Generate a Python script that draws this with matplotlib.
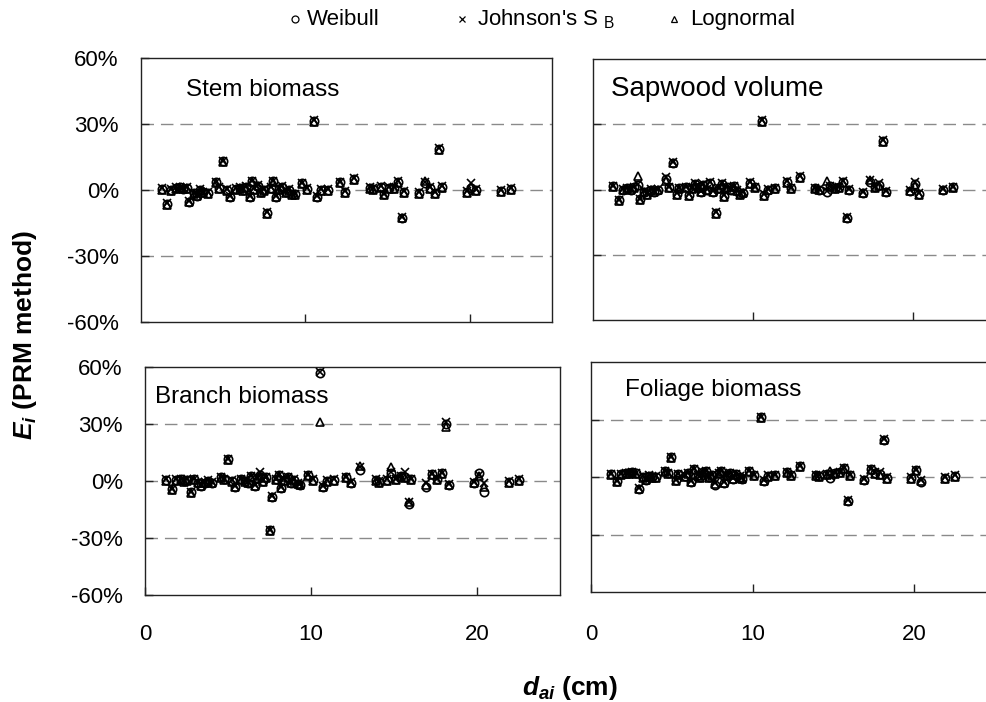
import matplotlib
matplotlib.use("Agg")
import matplotlib.pyplot as plt

plt.rcParams['font.family'] = ['Liberation Sans', 'DejaVu Sans']
plt.rcParams['mathtext.fontset'] = 'custom'
plt.rcParams['mathtext.rm'] = 'Liberation Sans'
plt.rcParams['mathtext.it'] = 'Liberation Sans:italic:bold'
plt.rcParams['mathtext.bf'] = 'Liberation Sans:bold'

# ---------------- data ----------------
d_ai = [
    1.25, 1.6, 1.85, 2.15, 2.35, 2.55, 2.8, 2.95, 3.2, 3.4,
    3.6, 3.8, 4.05, 4.55, 4.75, 4.98, 5.25, 5.4, 5.8, 6.0,
    6.2, 6.4, 6.6, 6.75, 6.9, 7.1, 7.3, 7.5, 7.66, 7.9,
    8.05, 8.2, 8.4, 8.6, 8.8, 9.0, 9.2, 9.35, 9.8, 10.1,
    10.55, 10.7, 10.95, 11.4, 12.1, 12.4, 12.95, 13.9, 14.1, 14.6,
    14.8, 15.1, 15.4, 15.65, 15.9, 16.0, 16.9, 17.3, 17.6, 17.9,
    18.15, 18.3, 19.8, 20.1, 20.4, 21.9, 22.5]

stem_weibull = [
    0.5, -6.4, 0, 1, 1.5, 0.5, 1, -5.3, -1.5, -2.5,
    0, -1, -1.5, 3.5, 1, 13, 0, -3, 0.5, 1,
    0, 1.5, -3, 4, 0.5, 2, -1, 0, -10.5, 1,
    4, -3, 0.5, 1.5, -1, 0, -2, -2, 3, 0.5,
    31.3, -3, 0, 0, 3.5, -1, 5, 1, 0.5, 1.5,
    -2, 1, 1, 3.5, -12.5, -1, -1.5, 3, 1, -1.5,
    18.5, 1.5, -1, 1, 0, -0.5, 0.5]
stem_johnson = [
    0.8, -6.1, 0.3, 1.3, 1.2, 0.8, 1.4, -5.0, -1.2, -2.1,
    0.3, -0.7, -1.1, 3.8, 1.3, 13.4, 0.4, -2.6, 0.8, 1.3,
    0.4, 1.8, -2.6, 4.3, 0.8, 2.3, -0.6, 0.3, -10.2, 1.3,
    4.3, -2.6, 0.8, 1.8, -0.6, 0.4, -1.6, -1.6, 3.4, 0.8,
    31.6, -2.6, 0.4, 0.4, 3.8, -0.6, 5.4, 1.4, 0.9, 1.9,
    -1.6, 1.4, 1.4, 3.9, -12.1, -0.6, -1.1, 3.8, 1.5, -1.0,
    18.9, 2.0, -0.6, 3.0, 0.4, -0.2, 0.8]
stem_lognormal = [
    0.2, -6.7, -0.3, 0.6, 1.0, 0.3, 0.6, -5.6, -1.8, -2.8,
    -0.3, -1.3, -1.8, 3.1, 0.6, 12.7, -0.4, -3.3, 0.2, 0.6,
    -0.4, 1.1, -3.4, 3.6, 0.2, 1.6, -1.4, -0.4, -10.8, 0.6,
    3.6, -3.4, 0.2, 1.1, -1.4, -0.4, -2.4, -2.4, 2.6, 0.2,
    31.0, -3.4, -0.4, -0.4, 3.1, -1.4, 4.6, 0.6, 0.1, 1.1,
    -2.4, 0.6, 0.6, 3.1, -12.9, -1.4, -1.9, 4.0, 0.6, -2.0,
    18.1, 1.1, -1.4, 1.5, -0.4, -0.8, 0.2]

sap_weibull = [
    1.5, -5, 0, 0.5, 0, 1, 2, -4.5, -1, -2,
    0, -1, 0, 4.7, 1, 12.3, -2, 0.5, 1, -2.5,
    0.5, 2.5, 1, -1, 2, 0, 3, -1, -10.8, 0.5,
    2.5, -3, 1, 0, 1.5, -0.5, -2, -1.5, 3, 1,
    31.5, -2.5, 0, 0.5, 3.5, 0.5, 5.8, 0.5, 0, -1,
    1.5, 0.5, 1, 3.5, -13, 0, -1.5, 3.5, 1, 2,
    22.3, -1, -0.5, 2.5, -2, 0, 1]
sap_johnson = [
    1.8, -4.7, 0.3, 0.8, 0.3, 1.3, 2.6, -4.2, -0.7, -1.7,
    0.3, -0.7, 0.3, 5.6, 1.3, 12.6, -1.7, 0.8, 1.3, -2.2,
    0.8, 2.8, 1.3, -0.7, 2.3, 0.3, 3.4, -0.7, -10.5, 0.8,
    2.8, -2.7, 1.3, 0.3, 1.8, -0.2, -1.7, -1.2, 3.3, 1.3,
    31.8, -2.2, 0.3, 0.8, 3.8, 0.8, 6.1, 0.8, 0.3, -0.7,
    1.8, 0.8, 1.3, 3.8, -12.7, 0.3, -1.2, 4.2, 1.3, 3.2,
    22.6, -0.7, -0.2, 3.5, -1.5, 0.3, 1.3]
sap_lognormal = [
    1.2, -5.3, -0.3, 0.2, -0.3, 0.7, 6.0, -4.8, -1.3, -2.3,
    -0.3, -1.3, -0.3, 3.8, 0.7, 12.0, -2.3, 0.2, 0.7, -2.8,
    0.2, 2.2, 0.7, -1.3, 1.7, -0.3, 2.6, -1.3, -11.1, 0.2,
    2.2, -3.3, 0.7, -0.3, 1.2, -0.8, -2.3, -1.8, 2.7, 0.7,
    31.2, -2.8, -0.3, 0.2, 3.2, 0.2, 5.5, 0.2, -0.3, 4.0,
    1.2, 0.2, 0.7, 3.2, -13.3, -0.3, -1.8, 4.5, 0.7, 1.7,
    22.0, -1.3, -0.8, 1.8, -2.3, -0.3, 0.7]

branch_weibull = [
    0.5, -4.4, 0.5, 1, 0, 0.5, -6, 1, -1, -2.5,
    -1, 0, -1, 2, 1, 11.4, 0, -3, 1, 0,
    -1, 2.5, -2.5, 1.5, 3, 0, 2, -26, -8.3, 1,
    3, -3.5, 0.5, 2, -1, 0.5, -1.5, -2, 3, 0.5,
    57, -3, 0, 0.5, 2, -1, 6, 0.5, -0.5, 0.5,
    4, 1, 2.5, 2, -12, 1, -3, 3.5, 1, 4,
    30, -2, -1, 4, -6, -0.5, 0.5]
branch_johnson = [
    0.8, -4.1, 0.8, 1.3, 0.3, 0.8, -5.7, 1.3, -0.7, -2.2,
    -0.7, 0.3, -0.7, 2.3, 1.3, 11.7, 0.3, -2.7, 1.3, 0.3,
    -0.7, 2.8, -2.2, 1.8, 4.5, 0.3, 2.3, -25.7, -8.0, 1.3,
    3.3, -3.2, 0.8, 2.3, -0.7, 0.8, -1.2, -1.7, 3.3, 0.8,
    57.3, -2.7, 0.3, 0.8, 2.3, -0.7, 7.5, 0.8, -0.2, 0.8,
    5.0, 1.3, 2.8, 5.0, -11.0, 1.3, -1.0, 3.8, 1.3, 4.3,
    31.0, -1.7, -0.7, 3.0, -1.0, -0.2, 0.8]
branch_lognormal = [
    0.2, -4.7, 0.2, 0.7, -0.3, 0.2, -6.3, 0.7, -1.3, -2.8,
    -1.3, -0.3, -1.3, 1.7, 0.7, 11.1, -0.3, -3.3, 0.7, -0.3,
    -1.3, 2.2, -2.8, 1.2, 2.7, -0.3, 1.7, -26.3, -8.6, 0.7,
    2.7, -3.8, 0.2, 1.7, -1.3, 0.2, -1.8, -2.3, 2.7, 0.2,
    30.9, -3.3, -0.3, 0.2, 1.7, -1.3, 8.0, 0.2, -0.8, 0.2,
    7.5, 0.7, 2.2, 1.7, -11.0, 0.7, -2.0, 3.2, 0.7, 3.7,
    28.5, -2.3, -1.3, 2.5, -3.0, -0.8, 0.2]

foliage_weibull = [
    1.5, -2.3, 1.5, 2, 2, 2.5, 2, -6, 0, -1.5,
    0.5, 0, 0, 3, 2, 10.3, -1.7, 1.5, 0.5, 2,
    -2.5, 4, 1, 0, 2.5, 3, 0, 1, -4, 2,
    3, -3, 1, 2, -1, 1.5, 0, -1, 3, 1,
    31.2, -2, 0.5, 1, 2.5, 1, 5.5, 1, 0.5, 1.5,
    -0.5, 2, 2.5, 4.5, -12.4, 1, -1.5, 4, 2, 1.5,
    19.4, -0.5, -0.5, 3.5, -2.5, -0.5, 0.5]
foliage_johnson = [
    1.8, -2.0, 1.8, 2.3, 2.3, 2.8, 2.3, -5.7, 0.3, -1.2,
    0.8, 0.3, 0.3, 3.3, 2.3, 10.6, -1.4, 1.8, 0.8, 2.3,
    -2.2, 4.3, 1.3, 0.3, 2.8, 3.3, 0.3, 1.3, -3.0, 2.3,
    3.3, -2.7, 1.3, 2.3, -0.7, 1.8, 0.3, -0.7, 3.3, 1.3,
    31.5, -1.7, 0.8, 1.3, 2.8, 1.3, 5.8, 1.3, 0.8, 1.8,
    0.5, 2.3, 2.8, 4.8, -12.1, 1.3, -1.2, 4.3, 2.5, 2.5,
    19.7, -0.2, -0.2, 3.8, -1.5, -0.2, 0.8]
foliage_lognormal = [
    1.2, -2.6, 1.2, 1.7, 1.7, 2.2, 1.7, -6.3, -0.3, -1.8,
    0.2, -0.3, -0.3, 2.7, 1.7, 10.0, -2.0, 1.2, 0.2, 1.7,
    -2.8, 3.7, 0.7, -0.3, 2.2, 2.7, -0.3, 0.7, -3.5, 1.7,
    2.7, -3.3, 0.7, 1.7, -1.3, 1.2, -0.3, -1.3, 2.7, 0.7,
    30.9, -2.3, 0.2, 0.7, 2.2, 0.7, 5.2, 0.7, 0.2, 1.2,
    3.0, 1.7, 2.2, 4.2, -12.7, 0.7, -1.8, 3.7, 1.7, 1.2,
    19.1, -0.8, -0.8, 3.2, -2.0, -0.8, 0.2]

panel_titles = ["Stem biomass", "Sapwood volume", "Branch biomass", "Foliage biomass"]
series_names = ["Weibull", "Johnson's S $_\\mathregular{B}$", "Lognormal"]
ytick_vals = [-60, -30, 0, 30, 60]
ytick_labels = ["-60%", "-30%", "0%", "30%", "60%"]
xtick_vals = [0, 10, 20]
xtick_labels = ["0", "10", "20"]
ref_lines = [-30, 0, 30]

panels = [
    (stem_weibull, stem_johnson, stem_lognormal),
    (sap_weibull, sap_johnson, sap_lognormal),
    (branch_weibull, branch_johnson, branch_lognormal),
    (foliage_weibull, foliage_johnson, foliage_lognormal),
]

# ---------------- figure ----------------
W, H = 986, 702
fig = plt.figure(figsize=(W / 100, H / 100), dpi=100)

def px_axes(l, t, r, b):
    return fig.add_axes([l / W, 1 - b / H, (r - l) / W, (b - t) / H])

boxes = [(141, 58, 552, 322), (593, 59, 993, 320),
         (145, 367, 560, 595), (591, 362, 995, 592)]
title_pos = [(0.11, 0.92, 17.5), (0.045, 0.935, 20), (0.025, 0.915, 17.5), (0.085, 0.925, 17.5)]
xpads = [None, None, 21, 23]

markers = [dict(marker='o', ms=6, mfc='none', mec='k', mew=1.2),
           dict(marker='x', ms=6, mec='k', mew=1.2),
           dict(marker='^', ms=6, mfc='none', mec='k', mew=1.2)]

for i, (box, vals) in enumerate(zip(boxes, panels)):
    ax = px_axes(*box)
    ax.set_xlim(0, 25)
    ax.set_ylim(-60, 60)
    for yv in ref_lines:
        ax.axhline(yv, color='#8a8a8a', lw=1.0, ls=(0, (9, 5)), zorder=1)
    for s, m in zip(vals, markers):
        ax.plot(d_ai, s, ls='none', zorder=3, clip_on=False, **m)
    for sp in ax.spines.values():
        sp.set_linewidth(1.0)
        sp.set_color('#222222')
    ax.set_yticks(ytick_vals[1:-1])
    ax.set_xticks(xtick_vals[1:])
    ax.tick_params(direction='in', length=6, width=1, color='#222222',
                   top=False, right=False)
    if i in (0, 2):
        ax.set_yticks(ytick_vals)
        ax.set_yticklabels(ytick_labels, fontsize=16)
        ax.tick_params(axis='y', pad=16)
    else:
        ax.set_yticklabels([])
    if i >= 2:
        ax.set_xticks(xtick_vals)
        ax.set_xticklabels(xtick_labels, fontsize=16)
        ax.tick_params(axis='x', pad=xpads[i])
    else:
        ax.set_xticklabels([])
    tx, ty, fs = title_pos[i]
    ax.text(tx, ty, panel_titles[i], transform=ax.transAxes, fontsize=fs,
            ha='left', va='top')

fig.text(25 / W, 1 - 335 / H, r"$E_i$ (PRM method)", rotation=90,
         fontsize=19, fontweight='bold', ha='center', va='center')
fig.text(570 / W, 1 - 688 / H, r"$d_{ai}$ (cm)", fontsize=19,
         fontweight='bold', ha='center', va='center')

# legend row across the top of the figure
leg_ax = fig.add_axes([0, 0, 1, 1], facecolor='none')
leg_ax.set_xlim(0, W)
leg_ax.set_ylim(H, 0)
leg_ax.axis('off')
leg_marker_x = [295, 462, 674]
leg_text_x = [307, 477, 690]
leg_y = 19
for mk, mx, tx, name in zip(['o', 'x', '^'], leg_marker_x, leg_text_x, series_names):
    leg_ax.plot([mx], [leg_y], ls='none', marker=mk, ms=5, mfc='none', mec='k', mew=0.9)
    leg_ax.text(tx, leg_y + 6, name, fontsize=16, ha='left', va='baseline')

fig.savefig("out.png", dpi=100)
